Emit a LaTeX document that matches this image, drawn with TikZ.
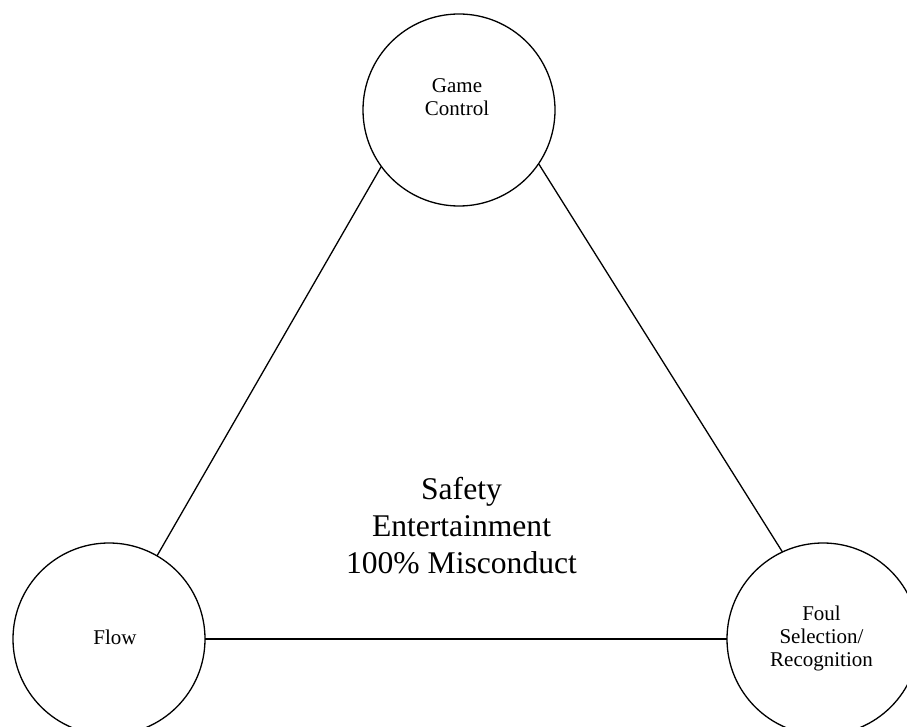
\documentclass[tikz,border=0pt]{standalone}
\usepackage{fontspec}
\setmainfont{Liberation Serif}
\begin{document}
\begin{tikzpicture}[x=1pt,y=-1pt,
  ring/.style={draw=black,circle,line width=1.3pt,minimum size=192pt,inner sep=0pt,outer sep=0pt},
  smalltext/.style={align=center,inner sep=0pt,font=\fontsize{21}{23}\selectfont},
  bigtext/.style={align=center,inner sep=0pt,font=\fontsize{31.6}{37}\selectfont},
  link/.style={draw=black,line width=1.3pt}]
\useasboundingbox (0,0) rectangle (907,727);
\node[ring] (top) at (459,110) {};
\node[ring] (left) at (109,639) {};
\node[ring] (right) at (823,639) {};
\node[smalltext] (toptext) at (457,97) {Game\\Control};
\node[smalltext] (lefttext) at (115,637) {Flow};
\node[smalltext] (righttext) at (821.5,638.7) {Foul\\Selection/\\Recognition};
\node[bigtext] (centre) at (461.5,526) {Safety\\Entertainment\\100\% Misconduct};
\draw[link] (left.60.5) -- (top.216.6);
\draw[link] (top.326.8) -- (right.115.8);
\draw[link] (left.0) -- (right.180);
\end{tikzpicture}
\end{document}
